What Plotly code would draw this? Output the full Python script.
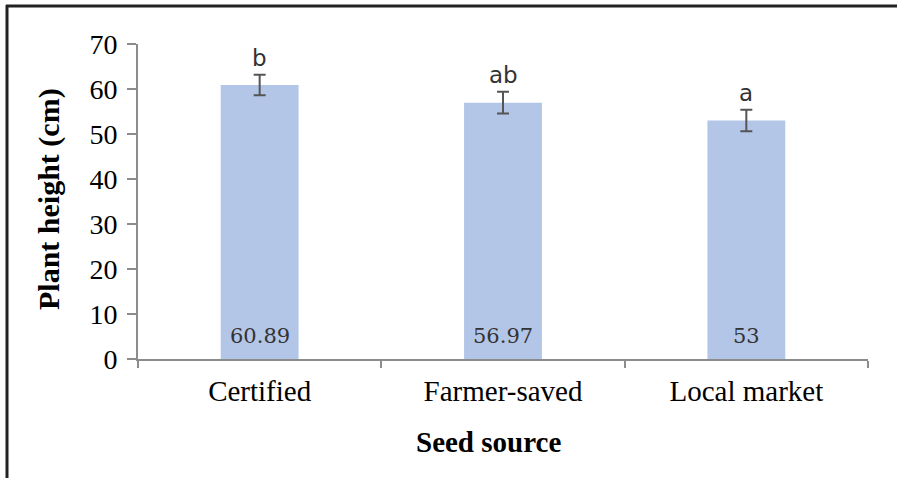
import plotly.graph_objects as go

categories = ["Certified", "Farmer-saved", "Local market"]
heights = [60.89, 56.97, 53]
errors = [2.3, 2.4, 2.4]
value_labels = ["60.89", "56.97", "53"]
letters = ["b", "ab", "a"]
y_ticks = [0, 10, 20, 30, 40, 50, 60, 70]

W, H = 897, 478
L, R, T, B = 138, 29, 44, 119
pw, ph = W - L - R, H - T - B

def px(x):
    return (x - L) / pw

def py(y):
    return (H - B - y) / ph

fig = go.Figure()
fig.add_trace(go.Bar(
    x=categories, y=heights,
    marker=dict(color="#b3c6e7", line=dict(width=0)),
    error_y=dict(type="data", array=errors, visible=True,
                 color="#555555", thickness=2, width=6),
    width=0.32,
))

annotations = []
for c, v, e, lab, let in zip(categories, heights, errors, value_labels, letters):
    annotations.append(dict(x=c, y=0, xref="x", yref="y", text=lab, showarrow=False,
                            yanchor="bottom", yshift=9,
                            font=dict(family="DejaVu Serif", size=21, color="#333333")))
    annotations.append(dict(x=c, y=v + e, xref="x", yref="y", text=let, showarrow=False,
                            yanchor="bottom", yshift=2,
                            font=dict(family="DejaVu Sans", size=23, color="#333333")))

annotations.append(dict(x=px(49), y=py(199), xref="paper", yref="paper",
                        text="<b>Plant height (cm)</b>", textangle=-90, showarrow=False,
                        xanchor="center", yanchor="middle",
                        font=dict(family="Liberation Serif", size=30, color="#000000")))
annotations.append(dict(x=px(488), y=py(442), xref="paper", yref="paper",
                        text="<b>Seed source</b>", showarrow=False,
                        xanchor="center", yanchor="middle",
                        font=dict(family="Liberation Serif", size=29, color="#000000")))

shapes = [
    dict(type="line", xref="paper", yref="paper", x0=px(6), x1=px(897), y0=py(6), y1=py(6),
         line=dict(color="#222222", width=3)),
    dict(type="line", xref="paper", yref="paper", x0=px(7), x1=px(7), y0=py(5), y1=py(478),
         line=dict(color="#222222", width=3)),
]

fig.update_layout(
    width=W, height=H,
    margin=dict(l=L, r=R, t=T, b=B),
    paper_bgcolor="white", plot_bgcolor="white",
    showlegend=False,
    annotations=annotations,
    shapes=shapes,
    xaxis=dict(showline=True, linecolor="#8c8c8c", linewidth=2,
               ticks="outside", tickson="boundaries", ticklen=7, tickcolor="#8c8c8c", tickwidth=2,
               tickfont=dict(family="Liberation Serif", size=29, color="#000000"),
               ticklabelstandoff=5, showgrid=False, zeroline=False),
    yaxis=dict(range=[0, 70], tickvals=y_ticks, showline=True, linecolor="#8c8c8c", linewidth=2,
               ticks="outside", ticklen=9, tickcolor="#8c8c8c", tickwidth=2,
               tickfont=dict(family="Liberation Serif", size=28, color="#000000"),
               ticklabelstandoff=4, showgrid=False, zeroline=False),
)

fig.write_html("out.html", config={"displayModeBar": False},
               post_script="document.body.style.margin='0';document.body.style.overflow='hidden';")
